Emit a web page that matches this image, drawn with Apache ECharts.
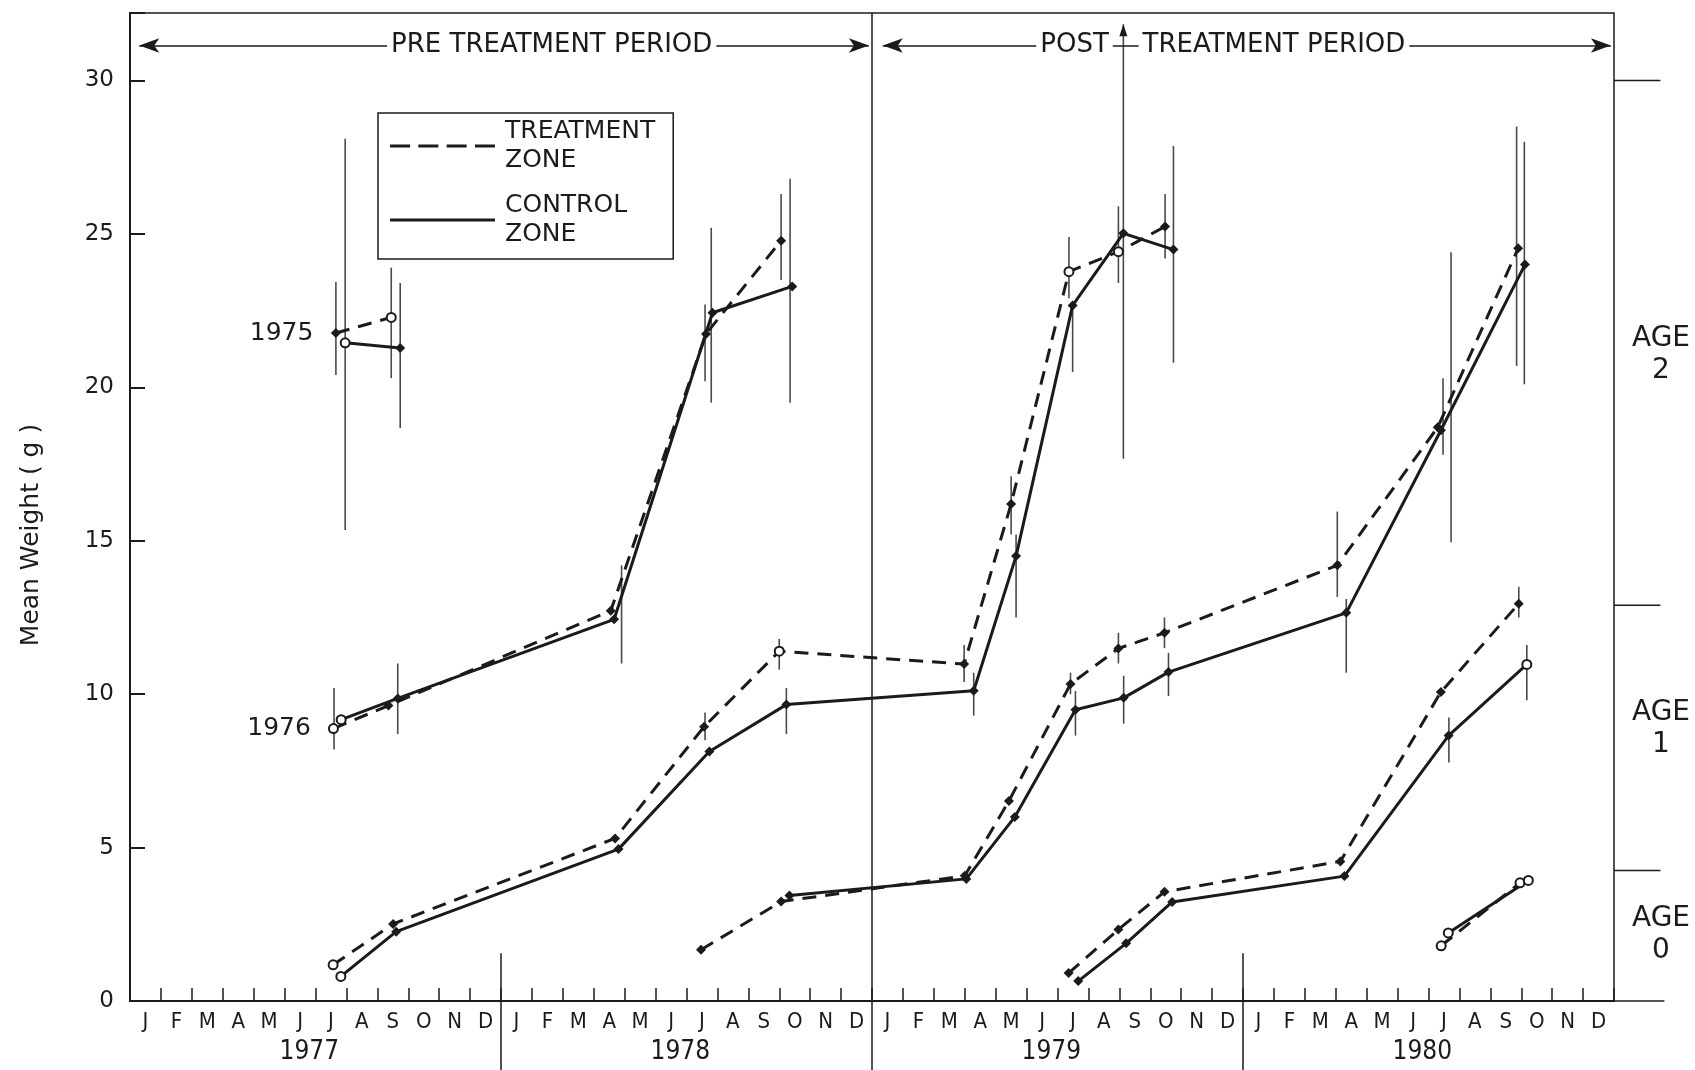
<!DOCTYPE html>
<html><head><meta charset="utf-8">
<script src="https://cdn.jsdelivr.net/npm/echarts@6/dist/echarts.min.js"></script>
<style>html,body{margin:0;padding:0;background:#fff}#c{width:1695px;height:1070px}</style>
</head><body><div id="c"></div>
<script>
// ---- tick labels ----
const monthLetters = ['J','F','M','A','M','J','J','A','S','O','N','D'];
const yearLabels = ['1977','1978','1979','1980'];
const yTickValues = [0, 5, 10, 15, 20, 25, 30];
const ageBounds = [0, 4.25, 12.9, 30];
const ageLabelPos = [2.16, 8.87, 21.06];
const ageLabels = ['AGE\n0', 'AGE\n1', 'AGE\n2'];
const legendLabels = {Treatment: 'TREATMENT\nZONE', Control: 'CONTROL\nZONE'};
const periodLabels = ['PRE TREATMENT PERIOD', 'POST', 'TREATMENT PERIOD'];

// ---- data: [months since 1 Jan 1977, mean weight (g)] ----
const t1975 = [[6.66, 21.77], [8.45, 22.28]];
const c1975 = [[6.96, 21.45], [8.74, 21.28]];
const t1976 = [[6.58, 8.88], [8.36, 9.63], [15.55, 12.72], [18.63, 21.74], [21.06, 24.78]];
const c1976 = [[6.83, 9.17], [8.66, 9.86], [15.66, 12.44], [18.84, 22.43], [21.42, 23.29]];
const t1977 = [[6.57, 1.18], [8.51, 2.51], [15.69, 5.30], [18.57, 8.94], [21.0, 11.40], [26.98, 10.98], [28.5, 16.2], [30.37, 23.77], [31.97, 24.42], [33.48, 25.24]];
const c1977 = [[6.82, 0.80], [8.61, 2.26], [15.8, 4.95], [18.74, 8.13], [21.23, 9.66], [27.29, 10.11], [28.66, 14.5], [30.49, 22.67], [32.13, 25.02], [33.75, 24.49]];
const t1978 = [[18.47, 1.67], [21.06, 3.24], [27.0, 4.08], [28.43, 6.52], [30.42, 10.33], [31.97, 11.49], [33.46, 12.0], [39.05, 14.2], [42.3, 18.7], [44.9, 24.53]];
const c1978 = [[21.33, 3.44], [27.05, 3.98], [28.62, 6.0], [30.58, 9.49], [32.14, 9.88], [33.59, 10.72], [39.34, 12.65], [42.4, 18.6], [45.12, 24.0]];
const t1979 = [[30.36, 0.91], [31.97, 2.33], [33.46, 3.56], [39.15, 4.55], [42.4, 10.07], [44.92, 12.95]];
const c1979 = [[30.67, 0.65], [32.22, 1.88], [33.71, 3.23], [39.28, 4.07], [42.65, 8.65], [45.18, 10.97]];
const t1980 = [[42.41, 1.80], [44.96, 3.85]];
const c1980 = [[42.64, 2.22], [45.23, 3.93]];

// error bars: [month, low, high]
const err1975 = [[6.66, 20.4, 23.43], [6.96, 15.35, 28.1], [8.45, 20.3, 23.9], [8.74, 18.67, 23.4]];
const err1976 = [[6.6, 8.2, 10.2], [8.66, 8.7, 11.0], [15.9, 11.0, 14.2], [18.8, 19.5, 25.2], [18.6, 20.2, 22.7], [21.06, 23.5, 26.3], [21.35, 19.5, 26.8]];
const err1977 = [[18.6, 8.5, 9.4], [21.0, 10.8, 11.8], [21.23, 8.7, 10.2], [26.98, 10.4, 11.6], [27.29, 9.3, 10.7], [28.5, 15.2, 17.1], [28.66, 12.5, 15.2], [30.37, 22.9, 24.9], [30.49, 20.5, 22.8], [31.97, 23.4, 25.9], [33.48, 24.2, 26.3], [33.75, 20.8, 27.87]];
const err1978 = [[30.42, 10.0, 10.7], [30.58, 8.65, 10.1], [31.97, 11.0, 12.0], [32.14, 9.04, 10.6], [33.46, 11.5, 12.5], [33.59, 9.94, 11.35], [39.05, 13.17, 15.95], [39.34, 10.7, 13.1], [42.47, 17.8, 20.3], [42.73, 14.95, 24.4], [44.85, 20.7, 28.5], [45.1, 20.1, 28.0]];
const err1979 = [[42.66, 7.77, 9.24], [44.92, 12.5, 13.5], [45.18, 9.8, 11.6]];
const errArrow = [[32.13, 17.67, 31.83]]; // bar running off the top

// ---- styles (kept separate from data) ----
const INK = '#1b1b1b';
const FONT = 'DejaVu Sans';
const openPoints = {t1975: [1], c1975: [0], t1976: [0], c1976: [0], t1977: [0, 4, 7, 8], c1977: [0], c1979: [5], t1980: [0, 1], c1980: [0, 1]};
const cohortLabel = {t1975: '1975', t1976: '1976'};
const dashIcon = 'path://M0,0h20v3h-20z M28.3,0h20v3h-20z M56.6,0h20v3h-20z M84.9,0h20v3h-20z';
const solidIcon = 'path://M0,0h105v3h-105z';

function lineSeries(key, data, dashed) {
  const open = openPoints[key] || [];
  const s = {
    type: 'line', name: key, data: data.map((d, i) => open.indexOf(i) >= 0
      ? {value: d, symbol: 'circle', itemStyle: {color: '#fff', borderColor: INK, borderWidth: 2}, symbolSize: 9}
      : {value: d}),
    symbol: 'diamond', symbolSize: 10, showAllSymbol: true,
    lineStyle: {color: INK, width: 3, type: dashed ? [14, 9] : 'solid'},
    itemStyle: {color: INK}, z: 3, silent: true, animation: false
  };
  if (cohortLabel[key]) {
    s.markPoint = {
      symbol: 'circle', symbolSize: 1, itemStyle: {color: 'rgba(0,0,0,0)'}, silent: true,
      data: [{coord: data[0], label: {show: true, position: 'left', distance: 22, formatter: cohortLabel[key],
        fontFamily: FONT, fontSize: 25, color: INK}}]
    };
  }
  return s;
}

function errSeries(data, arrow) {
  return {
    type: 'custom', data: data, encode: {x: 0, y: [1, 2]}, z: 2, silent: true, animation: false,
    renderItem(params, api) {
      const x = api.value(0);
      const a = api.coord([x, api.value(1)]);
      const b = api.coord([x, api.value(2)]);
      const children = [{type: 'line', shape: {x1: a[0], y1: a[1], x2: b[0], y2: b[1]}, style: {stroke: '#4a4a4a', lineWidth: 1.6}}];
      if (arrow) children.push({type: 'polygon', shape: {points: [[b[0], b[1]], [b[0] - 4, b[1] + 12], [b[0] + 4, b[1] + 12]]}, style: {fill: INK}});
      return {type: 'group', children: children};
    }
  };
}

const periodY = 31.14;
const arrowEnd = {symbol: 'arrow', symbolSize: [11, 20]};
const helper = {
  type: 'line', name: 'helper', data: [], silent: true, z: 1,
  markLine: {
    silent: true, animation: false, label: {show: false},
    lineStyle: {color: INK, width: 1.5, type: 'solid'},
    symbol: 'none',
    data: [
      [{xAxis: 24, yAxis: 0}, {xAxis: 24, yAxis: 32.2}],
      [{coord: [12, 0]}, {coord: [12, 1.56]}],
      [{coord: [36, 0]}, {coord: [36, 1.56]}],
      [Object.assign({coord: [0.3, periodY]}, arrowEnd), Object.assign({coord: [23.9, periodY]}, arrowEnd)],
      [Object.assign({coord: [24.35, periodY]}, arrowEnd), Object.assign({coord: [47.9, periodY]}, arrowEnd)]
    ]
  }
};
const periodText = {
  type: 'line', name: 'periodText', data: [], silent: true, z: 4,
  markPoint: {
    symbol: 'circle', symbolSize: 1, itemStyle: {color: 'rgba(0,0,0,0)'}, silent: true, animation: false,
    label: {show: true, position: 'inside', color: INK, fontFamily: FONT, fontSize: 26, backgroundColor: '#fff', padding: [2, 4]},
    data: [
      {coord: [13.64, periodY], label: {formatter: periodLabels[0]}},
      {coord: [30.55, periodY], label: {formatter: periodLabels[1]}},
      {coord: [37.0, periodY], label: {formatter: periodLabels[2]}}
    ]
  }
};

const legendSeries = [
  {type: 'line', name: 'Treatment', data: [], symbol: 'none', lineStyle: {color: INK, width: 3, type: [14, 9]}, itemStyle: {color: INK}},
  {type: 'line', name: 'Control', data: [], symbol: 'none', lineStyle: {color: INK, width: 3, type: 'solid'}, itemStyle: {color: INK}}
];

const chart = echarts.init(document.getElementById('c'), null, {renderer: 'canvas'});
chart.setOption({
  animation: false,
  backgroundColor: '#fff',
  grid: {left: 130, right: 81, top: 13, bottom: 69, show: true, borderColor: INK, borderWidth: 1.5},
  legend: {
    data: [{name: 'Treatment', icon: dashIcon}, {name: 'Control', icon: solidIcon}],
    left: 378, top: 113, orient: 'vertical', selectedMode: false,
    itemWidth: 105, itemHeight: 3, itemGap: 16, padding: [4, 18, 10, 12],
    borderColor: INK, borderWidth: 1.5,
    formatter: n => legendLabels[n],
    itemStyle: {color: INK},
    textStyle: {fontFamily: FONT, fontSize: 25, lineHeight: 29, color: INK, padding: [0, 0, 0, 5]}
  },
  xAxis: [
    {
      type: 'value', min: 0, max: 48, interval: 1, position: 'bottom',
      axisLine: {show: true, lineStyle: {color: INK, width: 2}},
      axisTick: {show: true, inside: true, length: 13, lineStyle: {color: INK, width: 1.5}},
      splitLine: {show: false},
      axisLabel: {
        customValues: monthLetters.concat(monthLetters, monthLetters, monthLetters).map((m, i) => i + 0.5),
        formatter: v => monthLetters[Math.floor(v) % 12],
        margin: 10, fontFamily: 'DejaVu Sans Condensed', fontSize: 22, color: INK
      }
    },
    {
      type: 'value', min: 0, max: 48, position: 'bottom',
      axisLine: {show: false},
      axisTick: {show: true, inside: false, length: 69, customValues: [12, 24, 36], lineStyle: {color: INK, width: 1.5}},
      splitLine: {show: false},
      axisLabel: {customValues: yearLabels.map((y, i) => i * 12 + 5.8), formatter: v => yearLabels[Math.floor(v / 12)],
        margin: 38, fontFamily: 'DejaVu Sans Condensed', fontSize: 26, color: INK}
    }
  ],
  yAxis: [
    {
      type: 'value', min: 0, max: 32.2, interval: 5,
      name: 'Mean Weight ( g )', nameLocation: 'middle', nameGap: 86, nameRotate: 90,
      nameTextStyle: {fontFamily: FONT, fontSize: 25, color: INK, padding: [0, 56, 0, 0]},
      axisLine: {show: true, lineStyle: {color: INK, width: 2}},
      axisTick: {show: true, inside: true, length: 15, lineStyle: {color: INK, width: 2}},
      splitLine: {show: false},
      axisLabel: {margin: 16, fontFamily: FONT, fontSize: 23, color: INK,
        formatter: v => (yTickValues.indexOf(v) >= 0 ? String(v) : '')}
    },
    {
      type: 'value', min: 0, max: 32.2, position: 'right',
      axisLine: {show: true, lineStyle: {color: INK, width: 2}},
      axisTick: {show: false},
      splitLine: {show: false},
      axisLabel: {customValues: ageLabelPos, formatter: v => ageLabels[ageLabelPos.indexOf(v)],
        margin: 47, align: 'center', fontFamily: FONT, fontSize: 28, lineHeight: 32, color: INK}
    }
  ],
  series: [
    helper,
    errSeries(err1975), errSeries(err1976), errSeries(err1977), errSeries(err1978), errSeries(err1979), errSeries(errArrow, true),
    lineSeries('t1975', t1975, true), lineSeries('c1975', c1975, false),
    lineSeries('t1976', t1976, true), lineSeries('c1976', c1976, false),
    lineSeries('t1977', t1977, true), lineSeries('c1977', c1977, false),
    lineSeries('t1978', t1978, true), lineSeries('c1978', c1978, false),
    lineSeries('t1979', t1979, true), lineSeries('c1979', c1979, false),
    lineSeries('t1980', t1980, true), lineSeries('c1980', c1980, false),
    periodText
  ].concat(legendSeries)
});

// age-bracket ticks outside the right axis, placed through the chart's own scales
const xRight = chart.convertToPixel({xAxisIndex: 0}, 48);
const xOut = chart.convertToPixel({xAxisIndex: 0}, 49.5);
chart.setOption({
  graphic: ageBounds.map(v => {
    const y = chart.convertToPixel({yAxisIndex: 0}, v);
    return {type: 'line', shape: {x1: xRight, y1: y, x2: xOut + (v === 0 ? 4 : 0), y2: y}, style: {stroke: INK, lineWidth: 1.5}, silent: true};
  })
});
</script></body></html>
